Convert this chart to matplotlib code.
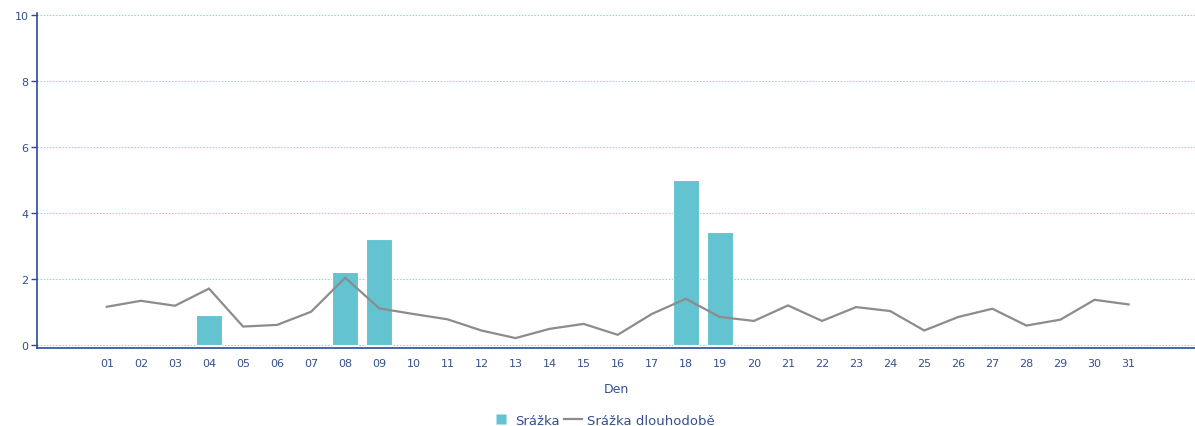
import matplotlib
matplotlib.use("Agg")
import matplotlib.pyplot as plt
from matplotlib.lines import Line2D

days = [f"{d:02d}" for d in range(1, 32)]
srazka = [0, 0, 0, 0.9, 0, 0, 0, 2.2, 3.2, 0, 0, 0, 0, 0, 0, 0, 0, 5.0, 3.4,
          0, 0, 0, 0, 0, 0, 0, 0, 0, 0, 0, 0]
srazka_dlouhodobe = [1.15, 1.33, 1.18, 1.70, 0.55, 0.60, 1.00, 2.03, 1.10, 0.93,
                     0.77, 0.43, 0.20, 0.48, 0.63, 0.30, 0.93, 1.39, 0.84, 0.72,
                     1.19, 0.72, 1.14, 1.02, 0.43, 0.84, 1.09, 0.58, 0.76, 1.36,
                     1.22]
y_ticks = [0, 2, 4, 6, 8, 10]

bar_color = "#63C3D1"
line_color = "#8C8C8C"
axis_color = "#2B4C97"
text_color = "#34508F"
grid_color = "#8AD8E8"

fig = plt.figure(figsize=(11.95, 4.27), dpi=100)
ax = fig.add_axes([37 / 1195, 1 - 349 / 427, 1 - 37 / 1195, (349 - 14) / 427])

x = list(range(1, len(days) + 1))
bars_x = [xi for xi, v in zip(x, srazka) if v > 0]
bars_v = [v for v in srazka if v > 0]
ax.bar(bars_x, bars_v, width=0.76, color=bar_color, edgecolor="white",
       linewidth=0.8, zorder=3)
ax.plot(x, srazka_dlouhodobe, color=line_color, linewidth=1.6, zorder=4,
        solid_joinstyle="miter")

ax.set_xlim(-1.05, 32.95)
ax.set_ylim(-0.1, 10.05)
ax.set_xticks(x)
ax.set_xticklabels(days)
ax.set_yticks(y_ticks)
ax.set_yticklabels([str(t) for t in y_ticks])

for t in y_ticks:
    ax.axhline(t, color=grid_color, linestyle=(0, (1.5, 1.5)), linewidth=0.75,
               snap=True, zorder=1)

for side in ("top", "right"):
    ax.spines[side].set_visible(False)
for side in ("left", "bottom"):
    ax.spines[side].set_color(axis_color)
    ax.spines[side].set_linewidth(1.2)

ax.tick_params(axis="x", length=0, pad=7, labelsize=8, labelcolor=text_color)
ax.tick_params(axis="y", length=4, width=1, color=axis_color, pad=2,
               labelsize=8, labelcolor=text_color)

ax.set_xlabel("Den", fontsize=9, color=text_color, labelpad=10)

handles = [Line2D([0], [0], marker="s", linestyle="none", markersize=7,
                  markerfacecolor=bar_color, markeredgecolor="none"),
           Line2D([0], [0], color=line_color, linewidth=1.6)]
fig.legend(handles, ["Srážka", "Srážka dlouhodobě"], loc="lower center",
           bbox_to_anchor=(0.505, -0.03), ncol=2, frameon=False, fontsize=9.5,
           labelcolor=text_color, handlelength=1.4,
           columnspacing=0.3, handletextpad=0.35)

fig.savefig("out.png", dpi=100, facecolor="white")
